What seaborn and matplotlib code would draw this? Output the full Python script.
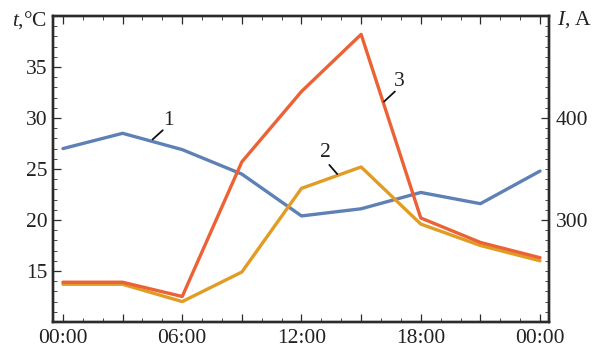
import matplotlib
matplotlib.use("Agg")
import matplotlib.pyplot as plt
import seaborn as sns
import pandas as pd
from matplotlib.ticker import MultipleLocator

sns.set_theme(style="ticks")
plt.rcParams['font.family'] = ['Liberation Serif', 'DejaVu Serif']
plt.rcParams['mathtext.fontset'] = 'custom'
plt.rcParams['mathtext.rm'] = 'Liberation Serif'
plt.rcParams['mathtext.it'] = 'Liberation Serif:italic'

# ---- data ----
hours = [0, 3, 6, 9, 12, 15, 18, 21, 24]
current_A = [370, 385, 369, 345, 304, 311, 327, 316, 348]          # curve 1 (right axis)
temp_air = [13.7, 13.7, 12.0, 14.9, 23.1, 25.2, 19.6, 17.5, 16.0]  # curve 2 (left axis)
temp_cond = [13.9, 13.9, 12.5, 25.7, 32.6, 38.2, 20.2, 17.8, 16.3] # curve 3 (left axis)
xtick_labels = ["00:00", "06:00", "12:00", "18:00", "00:00"]
curve_labels = ["1", "2", "3"]

c_blue = "#5E81B5"
c_yel = "#E19C24"
c_red = "#EB6235"
frame_col = "#2b2b2b"
txt_col = "#222222"

df = pd.DataFrame({"h": hours, "I": current_A, "t2": temp_air, "t3": temp_cond})

fig = plt.figure(figsize=(5.97, 3.51), dpi=100)
ax = fig.add_axes([53/597, 1-322/351, (549-53)/597, (322-16)/351])
ax2 = ax.twinx()
ax.set_zorder(2)
ax.patch.set_visible(False)

sns.lineplot(data=df, x="h", y="I", ax=ax2, color=c_blue, lw=2.4)
sns.lineplot(data=df, x="h", y="t2", ax=ax, color=c_yel, lw=2.4)
sns.lineplot(data=df, x="h", y="t3", ax=ax, color=c_red, lw=2.4)

ax.set_xlim(-0.5, 24.45)
ax.set_ylim(10, 40)
ax2.set_ylim(200, 500)
ax.set_xlabel("")
ax.set_ylabel("")
ax2.set_ylabel("")

ax.set_xticks([0, 3, 6, 9, 12, 15, 18, 21, 24])
ax.set_xticklabels([xtick_labels[0], "", xtick_labels[1], "", xtick_labels[2], "",
                    xtick_labels[3], "", xtick_labels[4]])
ax.xaxis.set_minor_locator(MultipleLocator(1))
ax.set_yticks([15, 20, 25, 30, 35])
ax.yaxis.set_minor_locator(MultipleLocator(1))
ax2.set_yticks([300, 400])
ax2.yaxis.set_minor_locator(MultipleLocator(10))

fs = 15.5
ax.tick_params(axis="x", which="both", direction="in", top=True, bottom=True,
               labelsize=fs, pad=5, colors=frame_col, labelcolor=txt_col)
ax.tick_params(axis="y", which="both", direction="in", left=True, right=False,
               labelsize=fs, pad=4, colors=frame_col, labelcolor=txt_col)
ax2.tick_params(axis="y", which="both", direction="in", left=False, right=True,
                labelsize=fs, pad=5, colors=frame_col, labelcolor=txt_col)
for a in (ax, ax2):
    a.tick_params(which="major", length=6, width=0.9)
    a.tick_params(which="minor", length=3, width=0.6)
    for s in a.spines.values():
        s.set_color(frame_col)
        s.set_linewidth(1.7)

# curve labels with leader lines
ax2.plot([4.51, 5.02], [379, 388], color="#111111", lw=1.3)
ax2.text(5.3, 398, curve_labels[0], fontsize=fs, ha="center", va="center", color=txt_col)
ax.plot([13.8, 13.4], [24.5, 25.4], color="#111111", lw=1.3)
ax.text(13.18, 26.6, curve_labels[1], fontsize=fs, ha="center", va="center", color=txt_col)
ax.plot([16.15, 16.7], [31.6, 32.6], color="#111111", lw=1.3)
ax.text(16.9, 33.6, curve_labels[2], fontsize=fs, ha="center", va="center", color=txt_col)

fig.text(47/597, 1-20/351, r"$\mathit{t}$,°C", fontsize=fs, ha="right", va="center", color=txt_col)
fig.text(557/597, 1-20/351, r"$\mathit{I}$, A", fontsize=fs, ha="left", va="center", color=txt_col)

fig.savefig("out.png", dpi=100)
